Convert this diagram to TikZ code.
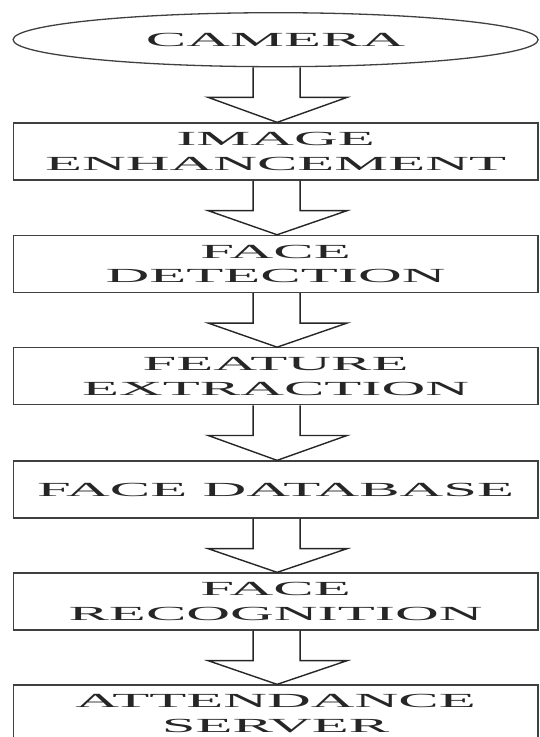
\documentclass[tikz,border=0pt]{standalone}
\usepackage{fontspec}
\newfontfamily\widefont[FakeStretch=3.03]{Liberation Serif}
\usetikzlibrary{shapes.geometric,calc}
\newcommand\flowarrow[2]{%
  \draw[blockarrow] ($(#1.south)+(-22.5,0)$) -- ($(#1.south)+(-22.5,30)$)
    -- ($(#1.south)+(-67.5,30)$) -- ($(#2.north)+(1.5,0)$)
    -- ($(#1.south)+(71.5,30)$) -- ($(#1.south)+(24.5,30)$)
    -- ($(#1.south)+(24.5,0)$);}
\begin{document}
\begin{tikzpicture}[x=1pt,y=-1pt,
  labelfont/.style={font=\widefont\fontsize{20}{24.5}\selectfont, text=black!85},
  stepbox/.style={draw=black!75, line width=1.3pt, rectangle,
    minimum width=524.7pt, minimum height=57pt, inner sep=0pt,
    align=center, labelfont},
  camerabox/.style={draw=black!75, line width=1.3pt, ellipse,
    minimum width=525pt, minimum height=54pt, inner sep=0pt, labelfont},
  blockarrow/.style={draw=black!85, line width=1.4pt, line join=miter}]
\path[use as bounding box, clip] (0,0) rectangle (539,737);
\node[camerabox] (cam) at (275.6,39.7) {CAMERA};
\node[stepbox] (enh) at (275.6,151.5) {IMAGE\\ENHANCEMENT};
\node[stepbox] (det) at (275.6,263.9) {FACE\\DETECTION};
\node[stepbox] (fea) at (275.6,376.3) {FEATURE\\EXTRACTION};
\node[stepbox] (dbs) at (275.6,489.5) {FACE DATABASE};
\node[stepbox] (rec) at (275.6,601.5) {FACE\\RECOGNITION};
\node[stepbox] (att) at (275.6,713.5) {ATTENDANCE\\SERVER};
\flowarrow{cam}{enh}
\flowarrow{enh}{det}
\flowarrow{det}{fea}
\flowarrow{fea}{dbs}
\flowarrow{dbs}{rec}
\flowarrow{rec}{att}
\end{tikzpicture}
\end{document}
